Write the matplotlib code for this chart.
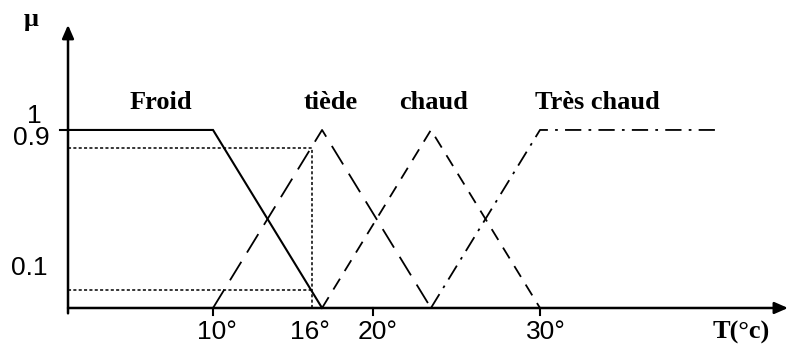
import matplotlib.pyplot as plt

# fonctions d'appartenance (x en degres, schematique)
x_origin = 1.13
froid_x = [x_origin, 10, 16.67]
froid_y = [1, 1, 0]
tiede_x = [10, 16.67, 23.33]
tiede_y = [0, 1, 0]
chaud_x = [16.67, 23.33, 30]
chaud_y = [0, 1, 0]
tres_chaud_x = [23.33, 30, 41.1]
tres_chaud_y = [0, 1, 1]

labels = ["Froid", "tiède", "chaud", "Très chaud"]
label_x = [6.8, 17.2, 23.5, 33.5]

tick_pos = [10, 15.7, 19.8, 30.1]
tick_labels = ["10°", "16°", "20°", "30°"]
x_cut = 16.05
mu_cut = [0.9, 0.1]

fig = plt.figure(figsize=(7.88, 3.46), dpi=100)
ax = fig.add_axes([0, 0, 1, 1])
ax.set_xlim(-3.03, 45.17)
ax.set_ylim(-0.2135, 1.730)
ax.axis("off")

ax.plot(froid_x, froid_y, color="black", lw=1.5, solid_joinstyle="miter")
ax.plot(tiede_x, tiede_y, color="black", lw=1.3, dashes=(12, 6))
ax.plot(chaud_x, chaud_y, color="black", lw=1.3, dashes=(7, 5))
ax.plot(tres_chaud_x, tres_chaud_y, color="black", lw=1.3, dashes=(9, 4, 1.5, 4))

# coupes a 16 degres
for m in mu_cut:
    ax.plot([x_origin, x_cut], [m, m], color="black", lw=1.1, ls=(0, (2, 1.5)))
ax.plot([x_cut, x_cut], [0, max(mu_cut)], color="black", lw=1.1, ls=(0, (2, 1.5)))

# axes avec fleches
ax.annotate("", xy=(x_origin, 1.59), xytext=(x_origin, -0.03),
            arrowprops=dict(arrowstyle="-|>,head_length=0.8,head_width=0.35",
                            color="black", lw=1.8, shrinkA=0, shrinkB=0))
ax.annotate("", xy=(45.17, 0), xytext=(x_origin, 0),
            arrowprops=dict(arrowstyle="-|>,head_length=0.8,head_width=0.35",
                            color="black", lw=1.8, shrinkA=0, shrinkB=0))

for p in [10, 19.8, 30]:
    ax.plot([p, p], [0, -0.04], color="black", lw=1.5)
ax.plot([x_origin - 0.5, x_origin], [1, 1], color="black", lw=1.5)

for p, t in zip(tick_pos, tick_labels):
    ax.text(p + 0.25, -0.135, t, ha="center", va="center", fontsize=19,
            family="Liberation Sans")

ax.text(-0.95, 1.079, "1", ha="center", va="center", fontsize=19,
        family="Liberation Sans")
ax.text(-1.13, 0.955, "0.9", ha="center", va="center", fontsize=19,
        family="Liberation Sans")
ax.text(-1.25, 0.225, "0.1", ha="center", va="center", fontsize=19,
        family="Liberation Sans")

for lx, t in zip(label_x, labels):
    ax.text(lx, 1.157, t, ha="center", va="center", fontsize=19,
            family="Liberation Serif", weight="bold")

ax.text(-1.15, 1.62, "μ", ha="center", va="center", fontsize=19,
        family="Liberation Serif", weight="bold")
ax.text(42.3, -0.14, "T(°c)", ha="center", va="center", fontsize=19,
        family="Liberation Serif", weight="bold")

plt.savefig("out.png", dpi=100)
plt.close()
